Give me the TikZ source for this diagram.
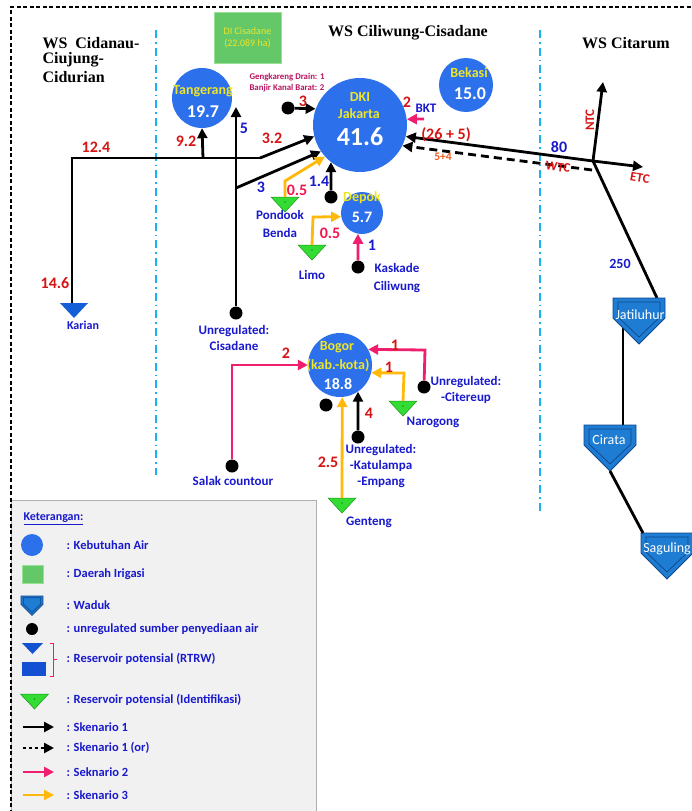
\documentclass[tikz,border=0pt]{standalone}
\usepackage{fontspec}
\setmainfont{Carlito}
\newfontfamily\titlefont{Liberation Serif}
\usetikzlibrary{arrows.meta}
\definecolor{demC}{RGB}{45,112,235}
\definecolor{ylwT}{RGB}{238,228,40}
\definecolor{blueT}{RGB}{25,25,205}
\definecolor{redT}{RGB}{215,20,20}
\definecolor{pinkC}{RGB}{240,30,110}
\definecolor{orangeC}{RGB}{255,185,10}
\definecolor{cyanC}{RGB}{25,180,240}
\definecolor{wadukC}{RGB}{30,125,210}
\definecolor{wadukD}{RGB}{15,70,140}
\definecolor{greenC}{RGB}{50,220,50}
\definecolor{greenD}{RGB}{30,150,30}
\definecolor{gengT}{RGB}{185,20,95}
\definecolor{diC}{RGB}{100,200,105}
\definecolor{diB}{RGB}{150,225,150}
\definecolor{legBg}{RGB}{241,241,241}
\definecolor{legB}{RGB}{175,175,175}
\definecolor{karC}{RGB}{20,95,215}
\definecolor{rtrwC}{RGB}{20,80,210}
\definecolor{smallO}{RGB}{235,90,30}
\begin{document}
\begin{tikzpicture}[x=1pt,y=-1pt,
  ln/.style={line width=2.8pt},
  blk/.style={ln, black, -{Triangle[length=10pt,width=10pt]}},
  pnk/.style={ln, pinkC, -{Triangle[length=10pt,width=10pt]}},
  org/.style={ln, orangeC, -{Triangle[length=10pt,width=10pt]}},
  dot/.style={circle, fill=black, minimum size=13pt, inner sep=0pt},
  dem/.style={circle, fill=demC, inner sep=0pt},
  dname/.style={font=\bfseries\fontsize{14}{14}\selectfont, text=ylwT},
  dval/.style={font=\bfseries\fontsize{18}{18}\selectfont, text=white},
  rnum/.style={font=\bfseries\fontsize{16}{16}\selectfont, text=redT},
  bnum/.style={font=\bfseries\fontsize{16}{16}\selectfont, text=blueT},
  lbl/.style={font=\bfseries\fontsize{13}{16}\selectfont, text=blueT, align=center},
  ttl/.style={font=\titlefont\bfseries\fontsize{16}{18}\selectfont},
  leg/.style={font=\bfseries\fontsize{12.5}{14}\selectfont, text=blueT, anchor=west},
  wname/.style={font=\fontsize{14}{14}\selectfont, text=white},
  sepline/.style={cyanC, line width=1.6pt, dash pattern=on 8pt off 4pt on 1.5pt off 4pt},
  waduk/.pic={
    \path[fill=wadukC, draw=wadukD, line width=0.8pt] (-26,0) -- (26,0) -- (26,20) -- (0,46) -- (-26,20) -- cycle;
    \draw[wadukD, line width=0.7pt] (-21,4) -- (21,4) -- (21,19) -- (0,39) -- (-21,19) -- cycle;
    \coordinate (-top) at (0,0);
    \coordinate (-tip) at (0,46);
  },
  gtri/.pic={
    \path[fill=greenC, draw=greenD, line width=0.5pt] (-14,0) -- (14,0) -- (0,15) -- cycle;
    \fill[greenD] (0,5) circle (0.8pt);
    \coordinate (-top) at (0,0);
  }
]
\useasboundingbox (0,0) rectangle (691,811);
\fill[white] (0,0) rectangle (691,811);

% legend background
\path[fill=legBg, draw=legB, line width=1pt] (11,500) rectangle (316,815);

% outer dashed border
\draw[line width=1.2pt, dash pattern=on 4pt off 2.5pt] (11,820) -- (11,7) -- (700,7);

% separators
\draw[sepline] (156,30) -- (156,475);
\draw[sepline] (540,30) -- (540,512);

% titles
\node[ttl, anchor=west] (w1) at (39,43) {WS\ \ Cidanau-};
\node[ttl, anchor=west] (w2) at (39,60) {Ciujung-};
\node[ttl, anchor=west] (w3) at (39,77) {Cidurian};
\node[ttl] (w4) at (408,33) {WS Ciliwung-Cisadane};
\node[ttl] (w5) at (626,43) {WS Citarum};

% irrigation area
\node[draw=diB, fill=diC, line width=0.8pt, minimum width=67pt, minimum height=51pt, inner sep=0pt,
      font=\fontsize{10}{12.5}\selectfont, text=ylwT, align=center] (di) at (247.5,37.5) {DI Cisadane\\(22.089 ha)};

% demand circles
\node[dem, minimum size=60pt] (tang) at (202,98) {};
\node[dem, minimum size=94pt] (dki) at (360,125) {};
\node[dem, minimum size=54pt] (bek) at (466,85) {};
\node[dem, minimum size=42pt] (depok) at (362,213) {};
\node[dem, minimum size=64pt] (bogor) at (340,365) {};

\node[dname] (tangA) at (203,91) {Tangerang};
\node[dval] (tangB) at (203,112) {19.7};
\node[dname] (dkiA) at (360,97) {DKI};
\node[dname] (dkiB) at (359,114) {Jakarta};
\node[dval, font=\bfseries\fontsize{26}{26}\selectfont] (dkiC) at (360,137) {41.6};
\node[dname] (bekA) at (469,73) {Bekasi};
\node[dval] (bekB) at (470,94) {15.0};
\node[dname] (depA) at (362,198) {Depok};
\node[dval, font=\bfseries\fontsize{16}{16}\selectfont] (depB) at (362,217) {5.7};
\node[dname] (bogA) at (337,347) {Bogor};
\node[dname] (bogB) at (338,365) {(kab.-kota)};
\node[dval, font=\bfseries\fontsize{16}{16}\selectfont] (bogC) at (338,384) {18.8};

% unregulated sources (dots)
\node[dot] (dcis) at (236,313) {};
\node[dot] (dgeng) at (288,108) {};
\node[dot] (d14) at (331,197) {};
\node[dot] (dkas) at (358,267) {};
\node[dot] (dsal) at (232,466) {};
\node[dot] (dcit) at (424,387) {};
\node[dot] (dkat) at (358,437) {};
\node[dot] (dlone) at (326,405) {};

% Karian reservoir (RTRW)
\path[fill=karC] (60,303) -- (88,303) -- (74,318) -- cycle;
\coordinate (kar) at (72,303);

% identified potential reservoirs
\pic (pb) at (285,197) {gtri};
\pic (limo) at (312,245) {gtri};
\pic (naro) at (403,401) {gtri};
\pic (gent) at (342,498) {gtri};

% bend points
\coordinate (c1) at (72,158);
\coordinate (c2) at (260,158);
\coordinate (c3) at (203,158);
\coordinate (c4) at (236,188);
\coordinate (c5) at (236,107);
\coordinate (c6) at (285,181);
\coordinate (c7) at (313,217);
\coordinate (c8) at (232,365);
\coordinate (c9) at (425,350);
\coordinate (c10) at (404,373);
\coordinate (bkt) at (424,119);
\coordinate (J) at (593,161);
\coordinate (J2) at (592,170);
\coordinate (etc) at (643,167);
\coordinate (ntc) at (603,82);
\coordinate (jA) at (657,298);
\coordinate (jB) at (623,328);
\coordinate (cA) at (623,425);
\coordinate (sA) at (643,533);

% scenario 1 (black)
\draw[ln, line join=miter] (kar) -- (c1) -- (c2);
\draw[blk] (c2) -- (dki.194);
\draw[blk] (c3) -- (tang.south);
\draw[blk] (dcis) -- (c5);
\draw[blk] (c4) -- (dki.214);
\draw[blk] (dgeng) -- (dki.160);
\draw[blk] (d14) -- (dki.232);
\draw[blk] (J) -- (dki.-14);
\draw[blk] (J) -- (etc);
\draw[blk] (J) -- (ntc);
\draw[blk, dash pattern=on 8pt off 5pt] (J2) -- (dki.-26);
\draw[blk] (dkat) -- (bogor.-56);
\draw[ln] (J) -- (jA);
\draw[ln] (jB) -- (cA);

% scenario 2 (pink)
\draw[pnk] (bkt) -- (dki.7);
\draw[pnk] (dkas) -- (depok.259);
\draw[pnk, line join=miter] (dsal) -- (c8) -- (bogor.180);
\draw[pnk, line join=miter] (dcit) -- (c9) -- (bogor.29);

% scenario 3 (orange)
\draw[org] (pb-top) -- (c6) -- (dki.222);
\draw[org, line join=miter] (limo-top) -- (c7) -- (depok.190);
\draw[org, line join=miter] (naro-top) -- (c10) -- (bogor.-14);
\draw[org] (gent-top) -- (bogor.-86);

% Citarum reservoirs
\pic (jati) at (639,298) {waduk};
\pic (cir) at (610,425) {waduk};
\pic (sag) at (667,533) {waduk};
\draw[ln] (cir-tip) -- (sA);
\node[wname] (jatiT) at (640,315) {Jatiluhur};
\node[wname] (cirT) at (609,440) {Cirata};
\node[wname] (sagT) at (667,549) {Saguling};

% number labels
\node[rnum] (n1) at (96,147) {12.4};
\node[rnum] (n2) at (186,141) {9.2};
\node[rnum] (n3) at (55,283) {14.6};
\node[bnum] (n4) at (244,128) {5};
\node[rnum] (n5) at (272,138) {3.2};
\node[bnum] (n6) at (261,187) {3};
\node[rnum, text=pinkC!70!red] (n7) at (297,190) {0.5};
\node[bnum] (n8) at (319,181) {1.4};
\node[rnum] (n9) at (303,101) {3};
\node[rnum, text=pinkC!70!red] (n10) at (330,233) {0.5};
\node[bnum] (n11) at (372,245) {1};
\node[rnum] (n12) at (407,102) {2};
\node[bnum, font=\bfseries\fontsize{13}{13}\selectfont] (n13) at (426,108) {BKT};
\node[rnum] (n14) at (446,135) {(26 + 5)};
\node[rnum, text=smallO, font=\bfseries\fontsize{11.5}{12}\selectfont] (n15) at (443,157) {5+4};
\node[bnum] (n16) at (559,147) {80};
\node[rnum, font=\bfseries\fontsize{13}{13}\selectfont, rotate=-8] (n17) at (558,167) {WTC};
\node[rnum, font=\bfseries\fontsize{13}{13}\selectfont, rotate=90] (n18) at (590,120) {NTC};
\node[rnum, font=\bfseries\fontsize{13}{13}\selectfont, rotate=-10] (n19) at (640,178) {ETC};
\node[bnum, font=\bfseries\fontsize{14}{14}\selectfont] (n20) at (620,264) {250};
\node[rnum] (n21) at (286,353) {2};
\node[rnum] (n22) at (395,345) {1};
\node[rnum] (n23) at (389,367) {1};
\node[rnum] (n24) at (369,413) {4};
\node[rnum] (n25) at (328,462) {2.5};

% small gengkareng note
\node[font=\bfseries\fontsize{8.8}{11}\selectfont, text=gengT, align=left, anchor=west] (gk) at (246,83) {Gengkareng Drain: 1\\Banjir Kanal Barat: 2};

% place labels
\node[lbl, font=\bfseries\fontsize{12}{12}\selectfont] (lk) at (83,325) {Karian};
\node[lbl] (lc) at (234,338) {Unregulated:\\Cisadane};
\node[lbl, font=\bfseries\fontsize{13}{18}\selectfont] (lpb) at (280,224) {Pondook\\Benda};
\node[lbl] (llimo) at (312,275) {Limo};
\node[lbl, font=\bfseries\fontsize{13}{18.5}\selectfont] (lkas) at (397,278) {Kaskade\\Ciliwung};
\node[lbl] (lsal) at (233,481) {Salak countour};
\node[lbl] (lcit) at (466,390) {Unregulated:\\-Citereup};
\node[lbl] (lnar) at (433,422) {Narogong};
\node[lbl] (lkat) at (381,466) {Unregulated:\\-Katulampa\\-Empang};
\node[lbl] (lgen) at (369,522) {Genteng};

% legend
\node[leg, font=\bfseries\fontsize{12}{14}\selectfont] (k0) at (20,519) {\underline{Keterangan:}};
\node[dem, minimum size=22pt] (k1s) at (32,545) {};
\node[fill=diC, draw=diB, minimum width=21pt, minimum height=18pt, inner sep=0pt] (k2s) at (32.5,574) {};
\pic[scale=0.42] (k3s) at (32,596) {waduk};
\node[dot, minimum size=12pt] (k4s) at (32,629) {};
\path[fill=rtrwC] (22,643) -- (43,643) -- (32.5,654) -- cycle;
\path[fill=rtrwC] (22,662) rectangle (46,676);
\draw[pinkC, line width=0.8pt] (50,643) -- (53,643) -- (53,676) -- (50,676);
\draw[pinkC, line width=0.8pt] (53,659) -- (57,659);
\pic (k6s) at (34.5,694) {gtri};
\coordinate (a1) at (23,727); \coordinate (a1e) at (54,727);
\coordinate (a2) at (23,748); \coordinate (a2e) at (54,748);
\coordinate (a3) at (23,772); \coordinate (a3e) at (54,772);
\coordinate (a4) at (23,795); \coordinate (a4e) at (54,795);
\draw[blk] (a1) -- (a1e);
\draw[blk, dash pattern=on 3pt off 3pt] (a2) -- (a2e);
\draw[pnk] (a3) -- (a3e);
\draw[org] (a4) -- (a4e);
\node[leg] (k1) at (63,545) {: Kebutuhan Air};
\node[leg] (k2) at (63,574) {: Daerah Irigasi};
\node[leg] (k3) at (63,605) {: Waduk};
\node[leg] (k4) at (63,629) {: unregulated sumber penyediaan air};
\node[leg] (k5) at (63,659) {: Reservoir potensial (RTRW)};
\node[leg] (k6) at (63,700) {: Reservoir potensial (Identifikasi)};
\node[leg] (k7) at (63,727) {: Skenario 1};
\node[leg] (k8) at (63,748) {: Skenario 1 (or)};
\node[leg] (k9) at (63,772) {: Seknario 2};
\node[leg] (k10) at (63,795) {: Skenario 3};
\end{tikzpicture}
\end{document}
